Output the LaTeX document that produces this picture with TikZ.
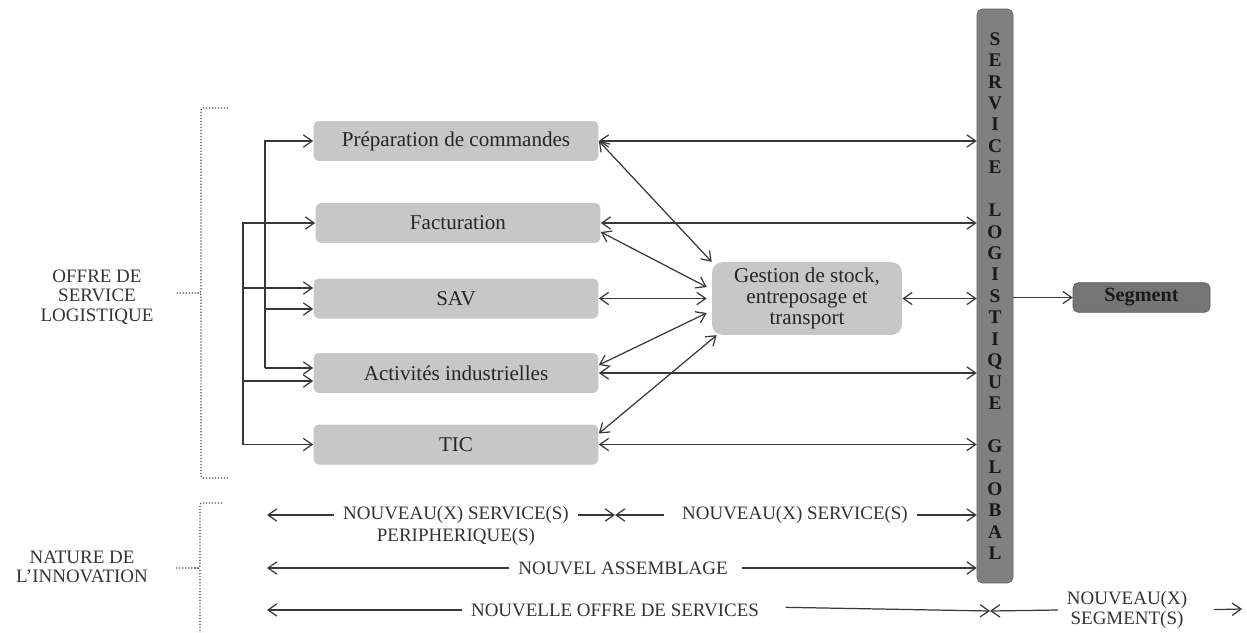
\documentclass[tikz,border=0pt]{standalone}
\usepackage{fontspec}
\setmainfont{Liberation Serif}
\usetikzlibrary{positioning,arrows.meta}

\definecolor{boxgray}{gray}{0.78}
\definecolor{colgray}{gray}{0.50}
\definecolor{seggray}{gray}{0.46}

\begin{document}
\begin{tikzpicture}[x=0.02cm,y=-0.02cm,
  actbox/.style={rectangle,rounded corners=3pt,fill=boxgray,text=black!85,
                 minimum width=5.7cm,minimum height=0.8cm,
                 font=\rmfamily\fontsize{12}{13}\selectfont},
  hubbox/.style={actbox,minimum width=3.8cm,minimum height=1.34cm,
                 rounded corners=6pt,align=center,
                 font=\rmfamily\fontsize{12}{11.9}\selectfont},
  colbox/.style={rectangle,rounded corners=3pt,fill=colgray,draw=colgray!80!black,
                 line width=0.4pt,minimum width=0.72cm,minimum height=11.48cm,
                 align=center,inner sep=0pt,text=black!90,
                 font=\rmfamily\bfseries\fontsize{11}{12.2}\selectfont},
  segbox/.style={rectangle,rounded corners=3pt,fill=seggray,draw=seggray!80!black,
                 line width=0.4pt,minimum width=2.74cm,minimum height=0.58cm,
                 text=black!90,font=\rmfamily\bfseries\fontsize{11.5}{12}\selectfont},
  sidelbl/.style={align=center,text=black!80,font=\rmfamily\fontsize{10.8}{11}\selectfont},
  innov/.style={align=center,text=black!80,inner xsep=5pt,inner ysep=0pt,
                font=\rmfamily\fontsize{10.8}{11.5}\selectfont},
  arr/.style={-{Straight Barb[length=5pt,width=7pt]},line width=0.7pt,draw=black!78},
  dblarr/.style={arr,{Straight Barb[length=5pt,width=7pt]}-{Straight Barb[length=5pt,width=7pt]}},
  brc/.style={densely dotted,line width=0.7pt,draw=black!70},
]
\useasboundingbox (0,0) rectangle (1247,632);

% Left labels and braces
\node[sidelbl] (offre) at (97,297) {OFFRE DE\\SERVICE\\LOGISTIQUE};
\node[sidelbl] (nature) at (82,567) {NATURE DE\\L’INNOVATION};

\draw[brc] (228,108) -- (206,108) .. controls (201,108) .. (201,113) -- (201,288)
  .. controls (201,293) .. (196,293) -- (175,293);
\draw[brc] (228,478) -- (206,478) .. controls (201,478) .. (201,473) -- (201,298)
  .. controls (201,293) .. (196,293);
\draw[brc] (222,503) -- (205,503) .. controls (200,503) .. (200,508) -- (200,563)
  .. controls (200,568) .. (195,568) -- (175,568);
\draw[brc] (200,640) -- (200,573) .. controls (200,568) .. (195,568);

% Activity boxes
\node[actbox] (prep) at (456,141) {Préparation de commandes};
\node[actbox] (fact) at (458,223) {Facturation};
\node[actbox] (sav)  at (456,298.5) {SAV};
\node[actbox] (act)  at (456,373) {Activités industrielles};
\node[actbox] (tic)  at (456,444.5) {TIC};

% Hub, global column and segment
\node[hubbox] (gest) at (807,298.5) {Gestion de stock,\\entreposage et\\transport};
\node[colbox] (col) at (995,296)
  {S\\E\\R\\V\\I\\C\\E\\[12.2pt]L\\O\\G\\I\\S\\T\\I\\Q\\U\\E\\[12.2pt]G\\L\\O\\B\\A\\L};
\node[segbox] (seg) at (1141.5,297.5) {Segment};

% Left feeding lines
\coordinate (busA) at (265,0);
\coordinate (busB) at (243,0);
\coordinate (actup) at ([yshift=0.1cm]act.west);
\coordinate (actlo) at ([yshift=-0.16cm]act.west);
\coordinate (savup) at ([yshift=0.21cm]sav.west);
\coordinate (savlo) at ([yshift=-0.21cm]sav.west);

\draw[arr] (actup -| busA) |- (prep.west);
\draw[arr] (actup -| busA) -- (actup);
\draw[arr] (savlo -| busA) -- (savlo);
\draw[arr] (tic.west -| busB) |- (fact.west);
\draw[arr] (tic.west -| busB) -- (tic.west);
\draw[arr] (savup -| busB) -- (savup);
\draw[arr] (actlo -| busB) -- (actlo);

% Links with the hub
\draw[dblarr] (prep.east) -- (gest.north west);
\draw[dblarr] ([yshift=-0.18cm]fact.east) -- ([xshift=-0.1cm,yshift=0.23cm]gest.west);
\draw[dblarr] (sav.east) -- ([xshift=-0.1cm]gest.west);
\draw[dblarr] ([yshift=0.16cm]act.east) -- ([xshift=-0.1cm,yshift=-0.29cm]gest.west);
\draw[dblarr] ([yshift=0.22cm]tic.east) -- ([xshift=0.1cm]gest.south west);

% Links with the global service
\draw[dblarr] (prep.east) -- (prep.east -| col.west);
\draw[dblarr] (fact.east) -- (fact.east -| col.west);
\draw[dblarr] (gest.east) -- (gest.east -| col.west);
\draw[dblarr] (act.east) -- (act.east -| col.west);
\draw[dblarr] (tic.east) -- (tic.east -| col.west);
\draw[arr] (seg.west -| col.east) -- (seg.west);

% Nature of the innovation
\coordinate (lft) at (267,0);
\node[innov] (nsp)  at (456,515) {NOUVEAU(X) SERVICE(S)};
\node[innov] (nspb) at (456,537) {PERIPHERIQUE(S)};
\coordinate (jn1) at (615,515);
\node[innov] (ns)   at (795,515) {NOUVEAU(X) SERVICE(S)};
\draw[arr] (nsp.west) -- (nsp.west -| lft);
\draw[arr] (nsp.east) -- (jn1);
\draw[arr,shorten <=5pt] (ns.west) -- (jn1);
\draw[arr] (ns.east) -- (ns.east -| col.west);

\node[innov] (nass) at (623,568) {NOUVEL ASSEMBLAGE};
\draw[arr] (nass.west) -- (nass.west -| lft);
\draw[arr,shorten <=3pt] (nass.east) -- (nass.east -| col.west);

\node[innov] (noff) at (615,610) {NOUVELLE OFFRE DE SERVICES};
\coordinate (jn3) at (990,611);
\draw[arr] (noff.west) -- (noff.west -| lft);
\draw[arr,shorten <=10pt] ([yshift=0.06cm]noff.east) -- (jn3);
\node[innov] (nseg) at (1127,610) {NOUVEAU(X)\\SEGMENT(S)};
\coordinate (rgt) at (1242,609);
\draw[arr] (nseg.west) -- (jn3);
\draw[arr,shorten <=10pt] (nseg.east) -- (rgt);

\end{tikzpicture}
\end{document}
